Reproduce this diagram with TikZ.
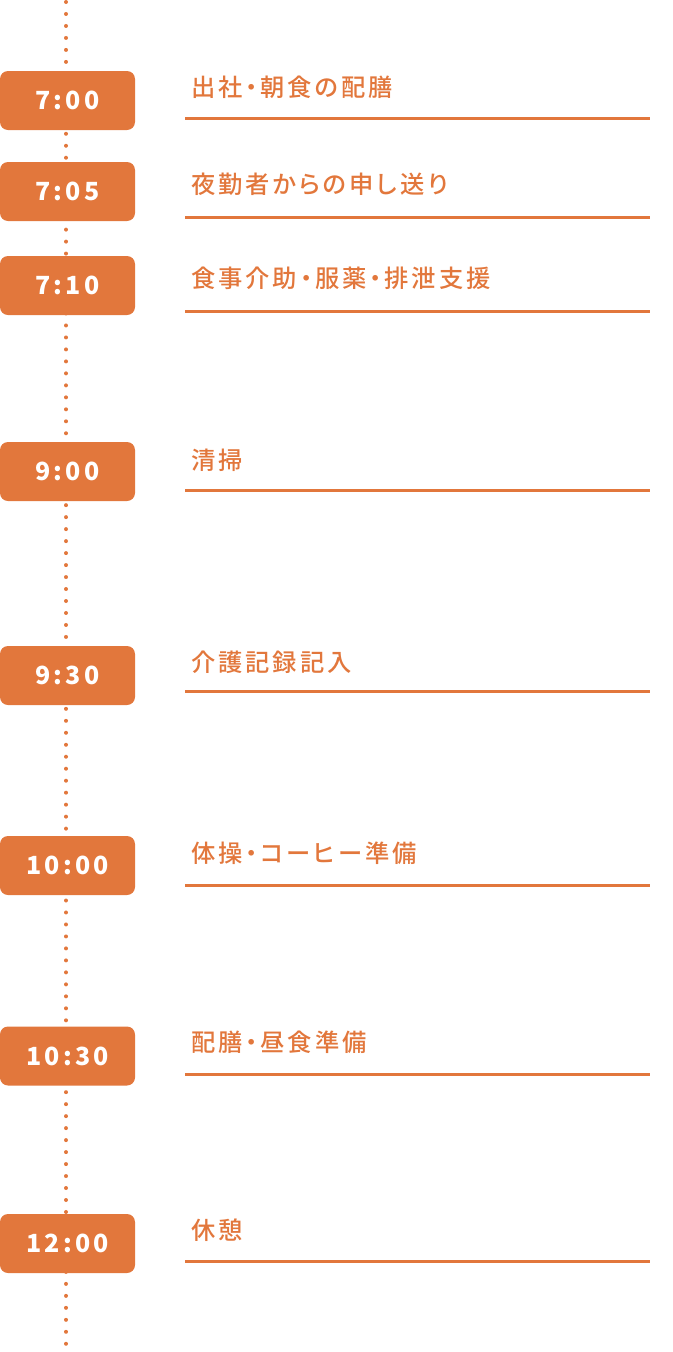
\documentclass[tikz,border=0pt]{standalone}
\usepackage{fontspec}
\newfontfamily\jpfont{Noto Sans CJK JP Medium}[LetterSpace=12,RawFeature=+palt]
\newfontfamily\timefont{Noto Sans CJK JP}[LetterSpace=13]
\definecolor{org}{HTML}{E2773C}
\begin{document}
\begin{tikzpicture}[x=1pt,y=-1pt,
  timebox/.style={fill=org,rounded corners=8pt,minimum width=135pt,minimum height=59pt,inner sep=0pt,text=white,font=\timefont\bfseries\fontsize{25}{25}\selectfont},
  task/.style={anchor=west,inner sep=0pt,text=org,font=\jpfont\fontsize{24.3}{26}\selectfont},
  rule/.style={draw=org,line width=3pt},
  dotline/.style={draw=org,line width=4pt,line cap=round,dash pattern=on 0pt off 11.98pt}]
\useasboundingbox (0,0) rectangle (672,1352);
\coordinate (top) at (66,2);
\coordinate (bot) at (66,1344);
\draw[dotline] (top) -- (bot);
\foreach \n/\t/\by/\ty/\ly/\lab in {
  a/7:00/100.5/87/118/出社・朝食の配膳,
  b/7:05/191.5/184/217/夜勤者からの申し送り,
  c/7:10/285.5/278/311/食事介助・服薬・排泄支援,
  d/9:00/471.5/460/490/清掃,
  e/9:30/675.5/662/691/介護記録記入,
  f/10:00/865.5/853/885/体操・コーヒー準備,
  g/10:30/1056/1042/1074/配膳・昼食準備,
  h/12:00/1243.5/1230/1261/休憩}{
  \node[timebox] (box\n) at (67.5,\by) {\t};
  \node[task] (task\n) at (191,\ty) {\lab};
  \coordinate (ls\n) at (185,\ly);
  \coordinate (le\n) at (650,\ly);
  \draw[rule] (ls\n) -- (le\n);
}
\end{tikzpicture}
\end{document}
